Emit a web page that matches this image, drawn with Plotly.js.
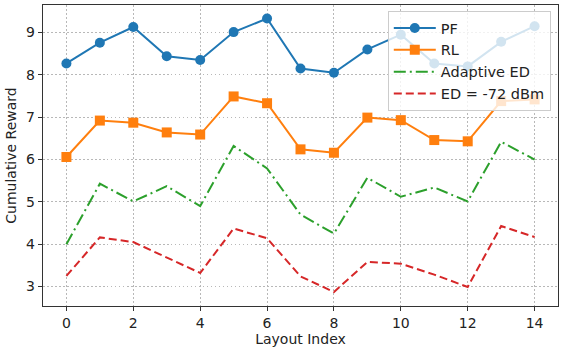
<!DOCTYPE html>
<html>
<head>
<meta charset="utf-8">
<script src="https://cdn.plot.ly/plotly-3.0.1.min.js"></script>
<style>
  html, body { margin: 0; padding: 0; background: white; }
  #chart { width: 562px; height: 349px; }
</style>
</head>
<body>
<div id="chart"></div>
<script>
const layoutIndex = [0, 1, 2, 3, 4, 5, 6, 7, 8, 9, 10, 11, 12, 13, 14];
const pfReward = [8.27, 8.76, 9.13, 8.44, 8.35, 9.01, 9.33, 8.15, 8.05, 8.60, 8.95, 8.27, 8.20, 8.78, 9.15];
const rlReward = [6.06, 6.92, 6.87, 6.64, 6.59, 7.49, 7.33, 6.24, 6.16, 6.99, 6.93, 6.46, 6.43, 7.38, 7.42];
const adaptiveEdReward = [4.00, 5.43, 5.01, 5.37, 4.90, 6.32, 5.79, 4.70, 4.25, 5.57, 5.12, 5.34, 5.01, 6.42, 6.00];
const fixedEdReward = [3.25, 4.16, 4.05, 3.68, 3.32, 4.37, 4.14, 3.24, 2.87, 3.58, 3.54, 3.28, 2.99, 4.43, 4.17];

const FONT = 'DejaVu Sans, sans-serif';

const data = [
    {
        x: layoutIndex,
        y: pfReward,
        type: 'scatter',
        mode: 'lines+markers',
        name: 'PF',
        line: { color: '#1f77b4', width: 2 },
        marker: { color: '#1f77b4', size: 10, symbol: 'circle' },
    },
    {
        x: layoutIndex,
        y: rlReward,
        type: 'scatter',
        mode: 'lines+markers',
        name: 'RL',
        line: { color: '#ff7f0e', width: 2 },
        marker: { color: '#ff7f0e', size: 10, symbol: 'square' },
    },
    {
        x: layoutIndex,
        y: adaptiveEdReward,
        type: 'scatter',
        mode: 'lines',
        name: 'Adaptive ED',
        line: { color: '#2ca02c', width: 2, dash: '12px,4px,2px,4px' },
    },
    {
        x: layoutIndex,
        y: fixedEdReward,
        type: 'scatter',
        mode: 'lines',
        name: 'ED = -72 dBm',
        line: { color: '#d62728', width: 2, dash: '8px,4px' },
    },
];

const axisCommon = {
    showline: true,
    mirror: true,
    linecolor: '#333',
    linewidth: 1.2,
    ticks: 'outside',
    ticklen: 4,
    tickcolor: '#333',
    showgrid: true,
    gridcolor: '#b8b8b8',
    griddash: '1.5px,2.5px',
    gridwidth: 1,
    zeroline: false,
    tickfont: { family: FONT, size: 14, color: '#222' },
};

const layout = {
    width: 562,
    height: 349,
    margin: { l: 43, r: 4, t: 5, b: 43 },
    paper_bgcolor: 'white',
    plot_bgcolor: 'white',
    font: { family: FONT, size: 14, color: '#222' },
    xaxis: Object.assign({}, axisCommon, {
        range: [-0.7, 14.7],
        tickmode: 'linear',
        tick0: 0,
        dtick: 2,
        title: { text: 'Layout Index', font: { family: FONT, size: 14 }, standoff: 4 },
    }),
    yaxis: Object.assign({}, axisCommon, {
        range: [2.54, 9.65],
        tickmode: 'linear',
        tick0: 3,
        dtick: 1,
        title: { text: 'Cumulative Reward', font: { family: FONT, size: 14 }, standoff: 6 },
    }),
    legend: {
        x: 0.986,
        y: 0.98,
        xanchor: 'right',
        yanchor: 'top',
        bgcolor: 'rgba(255,255,255,0.8)',
        bordercolor: '#cccccc',
        borderwidth: 1,
        itemwidth: 42,
        font: { family: FONT, size: 14.5, color: '#222' },
        tracegroupgap: 0,
    },
    showlegend: true,
};

Plotly.newPlot('chart', data, layout, { displayModeBar: false, staticPlot: true });
</script>
</body>
</html>
